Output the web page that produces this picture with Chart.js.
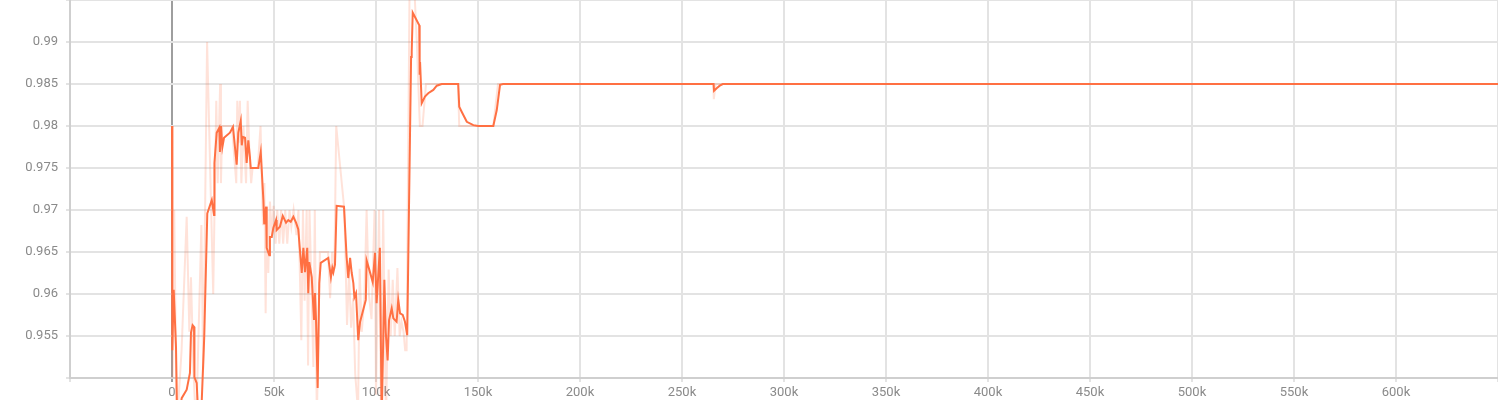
<!DOCTYPE html>
<html>
<head>
<meta charset="utf-8">
<script src="https://cdn.jsdelivr.net/npm/chart.js@4"></script>
<style>
  html, body { margin: 0; padding: 0; background: #fff; }
  #wrap { width: 1498px; height: 400px; position: relative; }
</style>
</head>
<body>
<div id="wrap"><canvas id="accChart"></canvas></div>
<script>
// ============================
// Data (steps in thousands)
// ============================
const smoothSteps = [
  0, 0.15, 0.83, 1.96, 2.6, 4.75, 7.2, 8.8, 9.3, 10.1, 10.8, 11.0, 12.1, 13.2, 14.6,
  15.8, 17.3, 19.5, 20.6, 20.8, 21.9, 23.2, 23.5, 24.0, 24.7, 25.5, 28.4, 29.9, 31.7,
  32.5, 33.7, 34.2, 34.7, 35.8, 36.6, 37.4, 38.2, 38.6, 42.3, 43.5, 44.8, 45.2, 46.1,
  46.4, 47.7, 48.0, 48.9, 49.7, 51.0, 51.3, 52.9, 54.3, 55.9, 57.0, 58.2, 59.5, 60.8,
  61.9, 63.6, 64.4, 65.2, 66.3, 66.8, 67.3, 68.5, 69.6, 70.1, 70.6, 71.4, 72.2, 72.9,
  76.6, 77.9, 78.6, 79.1, 79.9, 80.7, 84.3, 85.6, 86.4, 87.3, 88.1, 88.9, 89.4, 90.2,
  91.3, 92.2, 93.5, 95.0, 95.4, 96.7, 98.4, 99.5, 100.3, 101.9, 102.8, 104.1, 104.8,
  105.7, 106.4, 107.7, 108.5, 110.1, 110.9, 111.8, 113.1, 114.2, 115.3, 117.2, 117.5,
  118.0, 121.2, 121.4, 121.6, 122.4, 124.0, 125.6, 128.1, 129.8, 132.2, 140.3, 140.8,
  142.0, 144.5, 147.7, 150.1, 157.5, 159.2, 160.8, 162.3, 265.5, 265.7, 267.0, 268.5,
  270.0, 650.0
];
const smoothValues = [
  0.98, 0.9533, 0.9605, 0.9537, 0.944, 0.9476, 0.9486, 0.9506, 0.9554, 0.9563, 0.9561, 0.9501, 0.9494, 0.944, 0.9474,
  0.9549, 0.9696, 0.9712, 0.9694, 0.9756, 0.9792, 0.9798, 0.9769, 0.98, 0.9775, 0.9786, 0.9792, 0.9799, 0.9754,
  0.9792, 0.9806, 0.9777, 0.9787, 0.9786, 0.9756, 0.9783, 0.9763, 0.975, 0.975, 0.9769, 0.9712, 0.9683, 0.9704,
  0.9655, 0.9646, 0.9668, 0.9668, 0.9679, 0.9688, 0.9676, 0.968, 0.9693, 0.9685, 0.9688, 0.9686, 0.9692, 0.9685,
  0.9677, 0.9625, 0.9655, 0.9626, 0.9655, 0.9601, 0.9638, 0.962, 0.9569, 0.9601, 0.9569, 0.9488, 0.9613, 0.9637,
  0.9643, 0.962, 0.9631, 0.9626, 0.9635, 0.9705, 0.9704, 0.9644, 0.9619, 0.9643, 0.9625, 0.9613, 0.9596, 0.9601,
  0.9545, 0.9567, 0.9579, 0.9593, 0.964, 0.9629, 0.9614, 0.9649, 0.9589, 0.9655, 0.945, 0.9617, 0.9554,
  0.9521, 0.9569, 0.9583, 0.9571, 0.9567, 0.9593, 0.9577, 0.9575, 0.9567, 0.9551, 0.9882, 0.9888,
  0.9935, 0.992, 0.9861, 0.9876, 0.9827, 0.9835, 0.9839, 0.9843, 0.9848, 0.985, 0.985, 0.9823,
  0.9817, 0.9805, 0.9801, 0.98, 0.98, 0.9819, 0.9849, 0.985, 0.985, 0.9842, 0.9845, 0.9848,
  0.985, 0.985
];

const rawSteps = [
  0, 0.3, 1.1, 2.3, 4.7, 7.2, 8.5, 9.3, 10.5, 11.8, 14.4, 15.3, 17.2, 20.2, 21.7, 22.4,
  23.6, 24.0, 24.6, 29.4, 31.5, 32.0, 32.7, 33.3, 34.0, 35.0, 36.3, 37.1, 38.0, 38.8,
  39.5, 42.0, 43.4, 44.6, 45.3, 45.9, 46.5, 47.2, 48.0, 49.0, 49.8, 50.8, 51.6, 52.6,
  53.5, 54.5, 55.5, 56.5, 57.6, 58.5, 59.6, 61.0, 62.0, 63.4, 64.2, 65.0, 66.0, 66.7,
  67.4, 68.4, 69.3, 70.0, 71.0, 72.5, 76.5, 77.5, 78.5, 79.6, 80.5, 84.5, 85.8, 86.8,
  87.8, 88.8, 89.8, 91.2, 92.0, 93.0, 94.3, 95.4, 96.5, 97.8, 99.3, 100.0, 101.5, 102.5,
  103.5, 104.9, 106.2, 107.2, 108.2, 109.2, 110.5, 111.6, 112.5, 113.5, 114.3, 115.0,
  116.5, 118.5, 120.0, 121.5, 122.8, 124.5, 140.2, 140.8, 157.5, 159.8, 265.3, 265.6,
  266.5, 650.0
];
const rawValues = [
  0.98, 0.95, 0.97, 0.944, 0.9533, 0.9692, 0.9555, 0.962, 0.951, 0.944, 0.9682, 0.951, 0.99, 0.96, 0.983, 0.9732,
  0.985, 0.9732, 0.98, 0.98, 0.9732, 0.983, 0.978, 0.983, 0.9732, 0.98, 0.9732, 0.983, 0.9765, 0.9732,
  0.975, 0.975, 0.98, 0.9682, 0.9732, 0.9577, 0.9705, 0.9625, 0.971, 0.967, 0.9705, 0.966, 0.97, 0.966,
  0.97, 0.966, 0.97, 0.966, 0.97, 0.968, 0.97, 0.967, 0.97, 0.9545, 0.97, 0.9592, 0.97, 0.9515,
  0.97, 0.9605, 0.9513, 0.97, 0.945, 0.965, 0.965, 0.9595, 0.965, 0.963, 0.98, 0.97, 0.9563, 0.9625,
  0.956, 0.9595, 0.9505, 0.946, 0.963, 0.9555, 0.9595, 0.97, 0.96, 0.957, 0.97, 0.948, 0.97, 0.944,
  0.97, 0.945, 0.9629, 0.955, 0.9617, 0.955, 0.9631, 0.955, 0.9567, 0.9555, 0.9533, 0.9533,
  0.998, 0.998, 0.99, 0.98, 0.98, 0.985, 0.985, 0.98, 0.98, 0.985, 0.985, 0.9832,
  0.985, 0.985
];

const xTickStep = 50000;
const yTickStep = 0.005;

// ============================
// Helpers
// ============================
function toPoints(steps, values) {
  return steps.map((s, i) => ({ x: s * 1000, y: values[i] }));
}

const ctx = document.getElementById("accChart").getContext("2d");

new Chart(ctx, {
  type: "line",
  data: {
    datasets: [
      {
        label: "smoothed",
        data: toPoints(smoothSteps, smoothValues),
        borderColor: "#ff7043",
        borderWidth: 2,
        pointRadius: 0,
        tension: 0,
        clip: false
      },
      {
        label: "raw",
        data: toPoints(rawSteps, rawValues),
        borderColor: "rgba(255, 112, 67, 0.2)",
        borderWidth: 2,
        pointRadius: 0,
        tension: 0,
        clip: false
      }
    ]
  },
  options: {
    responsive: true,
    maintainAspectRatio: false,
    animation: false,
    layout: { padding: 0 },
    plugins: {
      legend: { display: false },
      tooltip: { enabled: false }
    },
    scales: {
      x: {
        type: "linear",
        min: -50000,
        max: 650000,
        // fixed height, no edge padding from tick labels
        afterFit: s => { s.height = 22; s.paddingLeft = 0; s.paddingRight = 0; },
        border: { color: "#cfcfcf", width: 2 },
        grid: {
          color: c => (c.tick && c.tick.value === 0 ? "#9e9e9e" : "#e3e3e3"),
          lineWidth: 2,
          tickLength: 4
        },
        ticks: {
          stepSize: xTickStep,
          autoSkip: false,
          maxRotation: 0,
          padding: 3,
          color: "#8a8a8a",
          font: { family: "Roboto", size: 13 },
          callback: v => (v < 0 || v > 600000 ? "" : v === 0 ? "0" : v / 1000 + "k")
        }
      },
      y: {
        min: 0.95,
        max: 0.995,
        afterFit: s => { s.width = 70; s.paddingTop = 0; s.paddingBottom = 0; },
        border: { color: "#cfcfcf", width: 2 },
        grid: { color: "#e3e3e3", lineWidth: 2, tickLength: 4 },
        ticks: {
          stepSize: yTickStep,
          padding: 8,
          color: "#8a8a8a",
          font: { family: "Roboto", size: 13 },
          callback: v => (v < 0.9525 || v > 0.9925 ? "" : String(+v.toFixed(3)))
        }
      }
    }
  }
});
</script>
</body>
</html>
